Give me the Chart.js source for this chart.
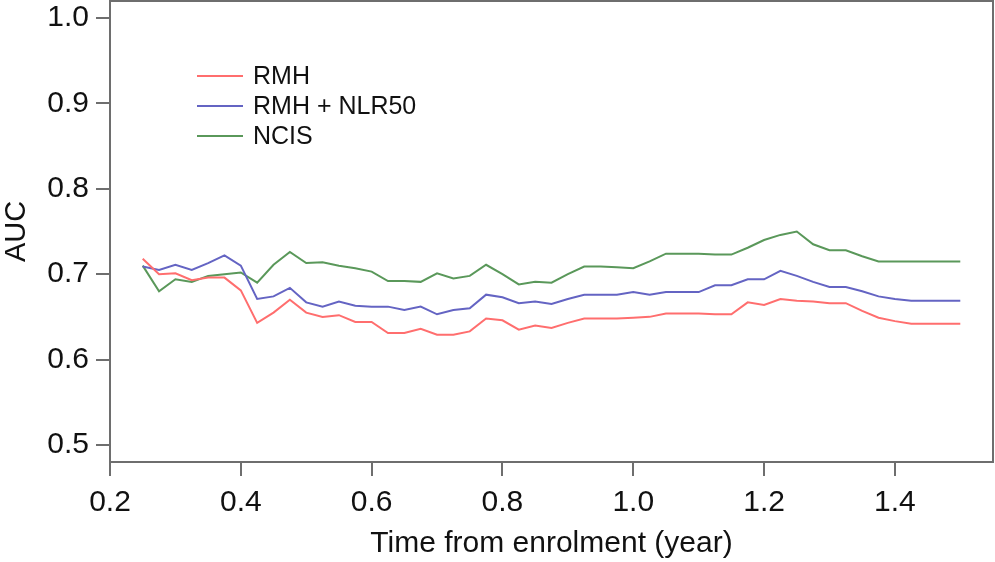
<!DOCTYPE html>
<html>
<head>
<meta charset="utf-8">
<script src="https://cdn.jsdelivr.net/npm/chart.js@4.4.1/dist/chart.umd.min.js"></script>
<style>
  html, body { margin: 0; padding: 0; background: #fff; }
  #wrap { width: 995px; height: 562px; }
</style>
</head>
<body>
<div id="wrap"><canvas id="auc-chart"></canvas></div>
<script>
// Time points (years from enrolment)
const timePoints = [
    0.25, 0.275, 0.3, 0.325, 0.35, 0.375, 0.4, 0.425, 0.45, 0.475,
    0.5, 0.525, 0.55, 0.575, 0.6, 0.625, 0.65, 0.675, 0.7, 0.725,
    0.75, 0.775, 0.8, 0.825, 0.85, 0.875, 0.9, 0.925, 0.95, 0.975,
    1.0, 1.025, 1.05, 1.075, 1.1, 1.125, 1.15, 1.175, 1.2, 1.225,
    1.25, 1.275, 1.3, 1.325, 1.35, 1.375, 1.4, 1.425, 1.45, 1.475, 1.5
];

const rmhAuc = [
    0.718, 0.700, 0.701, 0.693, 0.696, 0.696, 0.681, 0.643, 0.655, 0.670,
    0.655, 0.650, 0.652, 0.644, 0.644, 0.631, 0.631, 0.636, 0.629, 0.629,
    0.633, 0.648, 0.646, 0.635, 0.640, 0.637, 0.643, 0.648, 0.648, 0.648,
    0.649, 0.650, 0.654, 0.654, 0.654, 0.653, 0.653, 0.667, 0.664, 0.671,
    0.669, 0.668, 0.666, 0.666, 0.657, 0.649, 0.645, 0.642, 0.642, 0.642, 0.642
];

const rmhNlrAuc = [
    0.709, 0.705, 0.711, 0.705, 0.713, 0.722, 0.710, 0.671, 0.674, 0.684,
    0.667, 0.662, 0.668, 0.663, 0.662, 0.662, 0.658, 0.662, 0.653, 0.658,
    0.660, 0.676, 0.673, 0.666, 0.668, 0.665, 0.671, 0.676, 0.676, 0.676,
    0.679, 0.676, 0.679, 0.679, 0.679, 0.687, 0.687, 0.694, 0.694, 0.704,
    0.698, 0.691, 0.685, 0.685, 0.680, 0.674, 0.671, 0.669, 0.669, 0.669, 0.669
];

const ncisAuc = [
    0.710, 0.680, 0.694, 0.691, 0.698, 0.700, 0.702, 0.690, 0.711, 0.726,
    0.713, 0.714, 0.710, 0.707, 0.703, 0.692, 0.692, 0.691, 0.701, 0.695,
    0.698, 0.711, 0.700, 0.688, 0.691, 0.690, 0.700, 0.709, 0.709, 0.708,
    0.707, 0.715, 0.724, 0.724, 0.724, 0.723, 0.723, 0.731, 0.740, 0.746,
    0.750, 0.735, 0.728, 0.728, 0.721, 0.715, 0.715, 0.715, 0.715, 0.715, 0.715
];

const seriesNames = ['RMH', 'RMH + NLR50', 'NCIS'];
const xTicks = [0.2, 0.4, 0.6, 0.8, 1.0, 1.2, 1.4];
const yTicks = [0.5, 0.6, 0.7, 0.8, 0.9, 1.0];

const FONT = "'Liberation Sans', Arial, Helvetica, sans-serif";
const AXIS_GREY = '#6e6e6e';

function toPoints(values) {
    return values.map((v, i) => ({ x: timePoints[i], y: v }));
}

// Draws the box around the plot and the legend inside it
const boxAndLegend = {
    id: 'boxAndLegend',
    afterDraw(chart) {
        const { ctx, chartArea } = chart;
        ctx.save();
        ctx.strokeStyle = AXIS_GREY;
        ctx.lineWidth = 2;
        ctx.strokeRect(chartArea.left, chartArea.top, chartArea.right - chartArea.left, chartArea.bottom - chartArea.top);

        ctx.font = "25px " + FONT;
        ctx.textBaseline = 'middle';
        ctx.fillStyle = '#111';
        chart.data.datasets.forEach((ds, i) => {
            const y = 76 + i * 30;
            ctx.strokeStyle = ds.borderColor;
            ctx.lineWidth = 2;
            ctx.beginPath();
            ctx.moveTo(197, y);
            ctx.lineTo(243, y);
            ctx.stroke();
            ctx.fillText(ds.label, 253, y + 1);
        });
        ctx.restore();
    }
};

new Chart(document.getElementById('auc-chart'), {
    type: 'line',
    data: {
        datasets: [
            { label: seriesNames[0], data: toPoints(rmhAuc), borderColor: 'rgb(255,110,110)' },
            { label: seriesNames[1], data: toPoints(rmhNlrAuc), borderColor: 'rgb(100,100,195)' },
            { label: seriesNames[2], data: toPoints(ncisAuc), borderColor: 'rgb(90,152,90)' }
        ]
    },
    options: {
        responsive: true,
        maintainAspectRatio: false,
        animation: false,
        layout: { padding: { top: 1, right: 2, left: 0, bottom: 0 } },
        elements: {
            line: { borderWidth: 2, tension: 0, fill: false },
            point: { radius: 0 }
        },
        plugins: {
            legend: { display: false },
            tooltip: { enabled: false }
        },
        scales: {
            x: {
                type: 'linear',
                min: 0.2,
                max: 1.55,
                afterBuildTicks: scale => { scale.ticks = xTicks.map(v => ({ value: v })); },
                afterFit: scale => {
                    scale.height = 100;
                    scale.paddingLeft = 0;
                    scale.paddingRight = 0;
                },
                grid: { drawOnChartArea: false, drawTicks: true, tickLength: 14, color: AXIS_GREY, lineWidth: 2 },
                border: { display: true, color: AXIS_GREY, width: 2 },
                ticks: {
                    padding: 9,
                    color: '#111',
                    font: { family: FONT, size: 30 },
                    callback: v => v.toFixed(1)
                },
                title: {
                    display: true,
                    text: 'Time from enrolment (year)',
                    color: '#111',
                    font: { family: FONT, size: 30 },
                    padding: { top: 0, bottom: 0 }
                }
            },
            y: {
                min: 0.48,
                max: 1.02,
                afterBuildTicks: scale => { scale.ticks = yTicks.map(v => ({ value: v })); },
                afterFit: scale => {
                    scale.width = 110;
                    scale.paddingTop = 0;
                    scale.paddingBottom = 0;
                },
                grid: { drawOnChartArea: false, drawTicks: true, tickLength: 14, color: AXIS_GREY, lineWidth: 2 },
                border: { display: true, color: AXIS_GREY, width: 2 },
                ticks: {
                    padding: 7,
                    color: '#111',
                    font: { family: FONT, size: 30 },
                    callback: v => v.toFixed(1)
                },
                title: {
                    display: true,
                    text: 'AUC',
                    color: '#111',
                    font: { family: FONT, size: 29 },
                    padding: { top: 0, bottom: 0 }
                }
            }
        }
    },
    plugins: [boxAndLegend]
});
</script>
</body>
</html>
